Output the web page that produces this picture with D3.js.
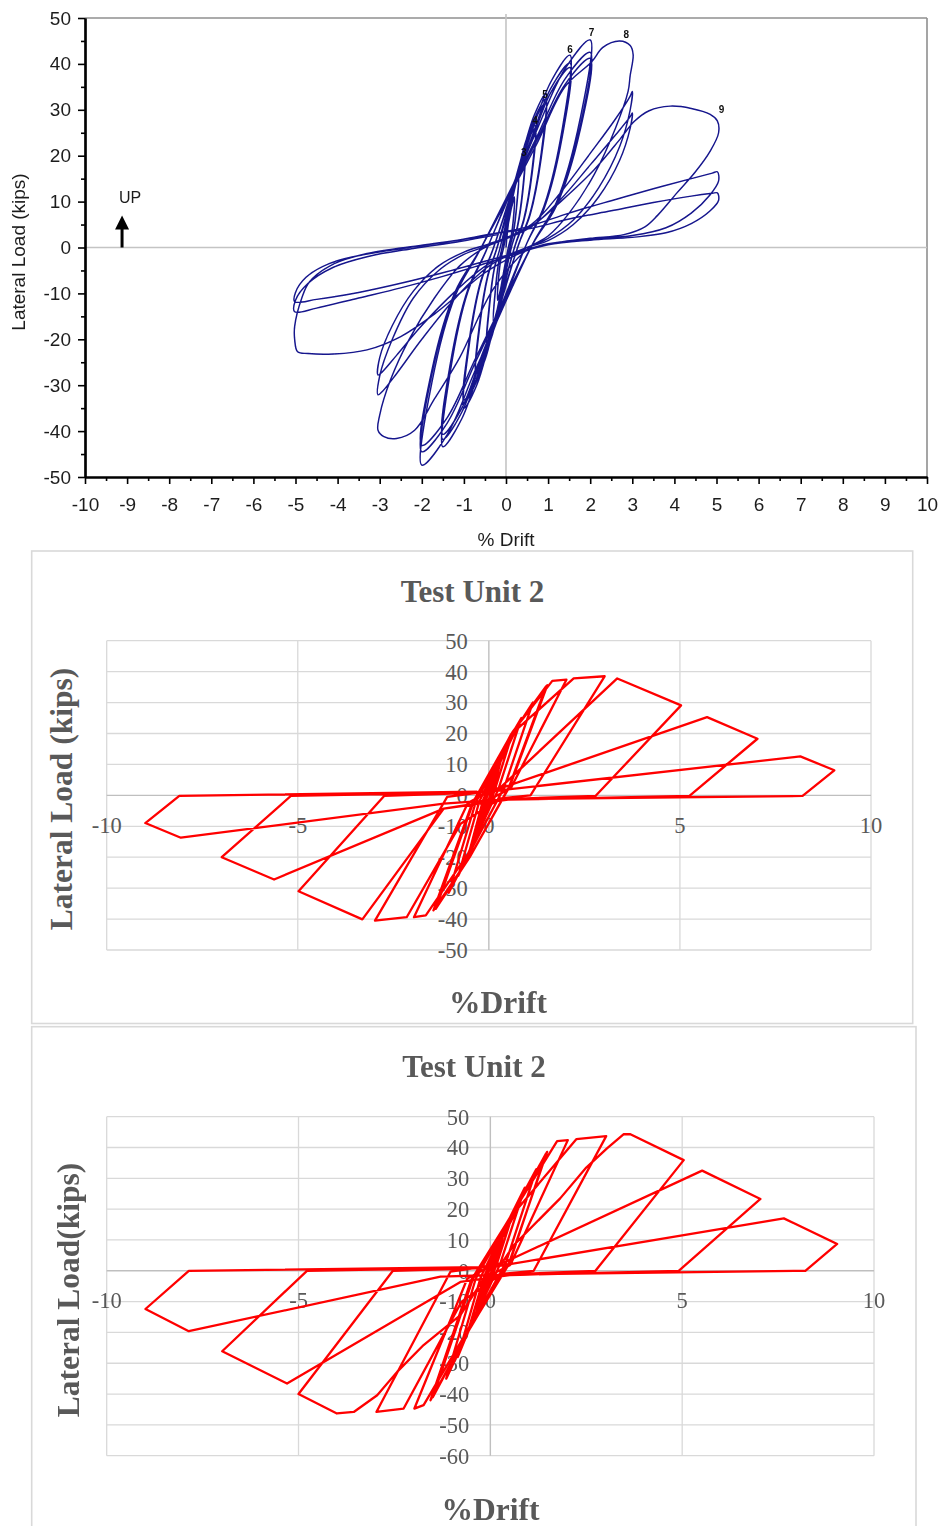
<!DOCTYPE html>
<html>
<head>
<meta charset="utf-8">
<script src="https://cdn.jsdelivr.net/npm/d3@7"></script>
<style>
  body { margin: 0; background: #fff; }
  svg { display: block; }
</style>
</head>
<body>
<svg id="fig" width="941" height="1526"></svg>
<script>
// ===================== data =====================
// Upper plot: measured hysteresis (drift %, lateral load kips)
const topDriftTicks = [-10,-9,-8,-7,-6,-5,-4,-3,-2,-1,0,1,2,3,4,5,6,7,8,9,10];
const topLoadTicks = [50,40,30,20,10,0,-10,-20,-30,-40,-50];

const blueCycle1 = [
  [0,0],[0.07,6.1],[0.14,9.5],[0.2,11],[0.18,6.8],[0.12,2.4],[0.06,0.2],[-0.07,-6.3],[-0.14,-9.9],[-0.2,-11.5],[-0.18,-7.1],[-0.12,-2.5],[-0.06,-0.2],
  [0.07,5.8],[0.14,9],[0.2,10.5],[0.18,6.5],[0.12,2.3],[0.06,0.2],[-0.07,-6],[-0.14,-9.5],[-0.2,-11],[-0.18,-6.8],[-0.12,-2.4],[-0.06,-0.2]
];
const blueCycle2 = [
  [0.11,8.8],[0.21,13.8],[0.3,16],[0.26,9.9],[0.18,3.5],[0.1,0.3],[-0.11,-9.1],[-0.21,-14.2],[-0.3,-16.5],[-0.26,-10.2],[-0.18,-3.6],[-0.1,-0.3],
  [0.11,8.5],[0.21,13.3],[0.3,15.4],[0.26,9.5],[0.18,3.4],[0.1,0.3],[-0.11,-8.8],[-0.21,-13.7],[-0.3,-15.9],[-0.26,-9.9],[-0.18,-3.5],[-0.1,-0.3]
];
const blueCycle3 = [
  [0.16,11.6],[0.32,18.1],[0.45,21],[0.4,13],[0.27,4.6],[0.14,0.4],[-0.16,-12.1],[-0.32,-18.9],[-0.46,-22],[-0.4,-13.6],[-0.28,-4.8],[-0.15,-0.4],
  [0.16,11.2],[0.32,17.4],[0.45,20.2],[0.4,12.5],[0.27,4.4],[0.14,0.4],[-0.16,-11.7],[-0.32,-18.3],[-0.46,-21.2],[-0.4,-13.1],[-0.28,-4.7],[-0.15,-0.4],
  [0.16,10.9],[0.32,17],[0.45,19.8],[0.4,12.2],[0.27,4.3],[0.14,0.4],[-0.16,-11.4],[-0.32,-17.9],[-0.46,-20.8],[-0.4,-12.8],[-0.28,-4.6],[-0.15,-0.4]
];
const blueCycle4 = [
  [0.25,15.1],[0.49,23.7],[0.7,27.5],[0.62,17.1],[0.42,6.1],[0.22,0.6],[-0.25,-15.7],[-0.5,-24.5],[-0.72,-28.5],[-0.63,-17.7],[-0.43,-6.3],[-0.23,-0.6],
  [0.25,14.6],[0.49,22.9],[0.7,26.6],[0.62,16.5],[0.42,5.9],[0.22,0.6],[-0.25,-15.2],[-0.5,-23.7],[-0.72,-27.6],[-0.63,-17.1],[-0.43,-6.1],[-0.23,-0.6],
  [0.25,14.3],[0.49,22.4],[0.7,26],[0.62,16.1],[0.42,5.7],[0.22,0.5],[-0.25,-14.9],[-0.5,-23.2],[-0.72,-27],[-0.63,-16.7],[-0.43,-5.9],[-0.23,-0.5]
];
const blueCycle5 = [
  [0.33,18.4],[0.67,28.8],[0.95,33.5],[0.84,20.8],[0.57,7.4],[0.3,0.7],[-0.35,-19.3],[-0.7,-30.1],[-1.0,-35],[-0.88,-21.7],[-0.6,-7.7],[-0.32,-0.7],
  [0.33,17.8],[0.67,27.9],[0.95,32.4],[0.84,20.1],[0.57,7.1],[0.3,0.6],[-0.35,-18.7],[-0.7,-29.2],[-1.0,-33.9],[-0.88,-21],[-0.6,-7.5],[-0.32,-0.7],
  [0.33,17.4],[0.67,27.3],[0.95,31.7],[0.84,19.7],[0.57,7],[0.3,0.6],[-0.35,-18.3],[-0.7,-28.6],[-1.0,-33.2],[-0.88,-20.6],[-0.6,-7.3],[-0.32,-0.6]
];
const blueCycle6 = [
  [0.53,23],[1.06,36],[1.52,41.9],[1.34,26],[0.91,9.2],[0.49,0.8],[-0.53,-23.9],[-1.05,-37.3],[-1.5,-43.4],[-1.32,-26.9],[-0.9,-9.5],[-0.48,-0.9],
  [0.53,22],[1.06,34.6],[1.52,40.2],[1.34,24.9],[0.91,8.8],[0.49,0.8],[-0.53,-23],[-1.05,-35.9],[-1.5,-41.8],[-1.32,-25.9],[-0.9,-9.2],[-0.48,-0.8],
  [0.53,21.4],[1.06,33.7],[1.52,39.2],[1.34,24.3],[0.91,8.6],[0.49,0.8],[-0.53,-22.4],[-1.05,-35],[-1.5,-40.7],[-1.32,-25.2],[-0.9,-9],[-0.48,-0.8]
];
const blueCycle7 = [
  [0.7,24.9],[1.4,38.9],[2.0,45.2],[1.76,28],[1.2,9.9],[0.64,0.9],[-0.7,-26.1],[-1.4,-40.8],[-2.0,-47.4],[-1.76,-29.4],[-1.2,-10.4],[-0.64,-0.9],
  [0.7,23.5],[1.4,36.7],[2.0,42.5],[1.76,26.4],[1.2,9.4],[0.64,0.9],[-0.7,-24.5],[-1.4,-38.3],[-2.0,-44.5],[-1.76,-27.6],[-1.2,-9.8],[-0.64,-0.9],
  [0.7,22.8],[1.4,35.5],[2.0,41.2],[1.76,25.5],[1.2,9.1],[0.64,0.8],[-0.7,-23.7],[-1.4,-37.1],[-2.0,-43.1],[-1.76,-26.7],[-1.2,-9.5],[-0.64,-0.8]
];
const blueCycle8 = [
  [0.7,22],[1.4,35],[2.04,40.5],[2.3,43.6],[2.7,45],[2.95,44],[3.02,42],[2.95,37.5],[2.9,34],[2.6,26],[2.1,16],[1.5,7.5],[1.0,2.5],[0.55,0],
  [-0.3,-9],[-1.1,-24],[-1.7,-33],[-2.17,-39.8],[-2.6,-41.6],[-2.9,-41.2],[-3.04,-39.8],[-3.0,-36.5],[-2.75,-29],[-2.3,-20],[-1.7,-11],[-1.1,-4],[-0.6,-0.5],
  [0.6,5],[1.3,12],[2.0,20.5],[2.6,28],[2.95,33],[3.0,34],[2.95,30],[2.7,22],[2.2,13],[1.6,6],[1.0,2],[0.5,0],
  [-0.4,-4],[-1.2,-11],[-2.0,-20],[-2.6,-27.5],[-2.95,-31.5],[-3.04,-32.1],[-3.0,-28],[-2.7,-20],[-2.2,-11],[-1.6,-5],[-1.0,-1.5],[-0.4,0.5],
  [0.6,4.5],[1.3,10.5],[2.0,18],[2.6,24.5],[2.95,28.5],[3.0,29.3],[2.95,26],[2.7,19],[2.2,11],[1.6,5],[1.0,1.5],[0.5,0],
  [-0.4,-3.5],[-1.2,-9.5],[-2.0,-17],[-2.6,-23.5],[-2.95,-27.2],[-3.04,-27.8],[-3.0,-24],[-2.7,-17],[-2.2,-9.5],[-1.6,-4],[-1.0,-1],[-0.4,0.8]
];
const blueCycle9 = [
  [0.5,4],[1.3,10],[2.1,17],[2.7,23.5],[3.05,27.5],[3.4,29.8],[3.9,30.8],[4.4,30.3],[4.85,29],[5.02,27.6],[5.05,25],[4.85,21],[4.5,16.5],[4.06,11.9],[3.6,7],[3.3,4.5],[2.8,2.8],[2.0,2],[1.2,1],[0.4,-1],
  [-0.5,-5.5],[-1.1,-10],[-1.7,-14.5],[-2.5,-19.4],[-3.3,-22.3],[-4.1,-23.2],[-4.7,-23.1],[-4.95,-22.7],[-5.02,-20],[-5.02,-17.2],[-4.85,-11],[-4.67,-7.5],[-4.1,-3.6],[-3.3,-1.3],[-2.0,0.5],[-1.0,1.8],[-0.3,3],
  [0.5,4.5],[1.5,7.5],[2.5,10.2],[3.5,12.8],[4.4,15],[4.9,16.2],[5.02,16.5],[5.05,14.5],[4.85,11.5],[4.4,7.5],[3.8,4.3],[3.0,2.6],[2.0,1.8],[1.0,0.8],[0.3,-1],
  [-0.5,-3],[-1.5,-5.5],[-2.5,-7.8],[-3.5,-9.8],[-4.5,-11.3],[-5.02,-11.8],[-5.0,-9.8],[-4.75,-6.5],[-4.2,-3.5],[-3.4,-1.6],[-2.3,0],[-1.2,1.5],[-0.3,3],
  [0.5,4],[1.5,6.2],[2.5,8],[3.5,9.8],[4.4,11.2],[4.9,11.8],[5.02,11.9],[5.05,10.3],[4.85,8],[4.4,5.2],[3.8,3.2],[3.0,2.2],[2.0,1.6],[1.0,0.6],[0.3,-1.2],
  [-0.5,-3.5],[-1.5,-6.3],[-2.5,-8.8],[-3.5,-11],[-4.5,-13.2],[-5.02,-14],[-5.0,-11.5],[-4.7,-7.8],[-4.1,-4.3],[-3.3,-2],[-2.2,-0.2],[-1.1,1.3],[-0.2,2.8]
];
// cycle numbers written beside the peaks
const cycleLabels = ["3","4","5","6","7","8","9"];
const cycleLabelDrift = [0.42,0.69,0.93,1.52,2.03,2.86,5.12];
const cycleLabelLoad = [20.7,27.6,33.4,43.2,46.9,46.4,30.0];

// Lower plots: Test Unit 2 model traces
const redDriftTicks = [-10,-5,0,5,10];
const unitALoadTicks = [50,40,30,20,10,0,-10,-20,-30,-40,-50];
const unitBLoadTicks = [50,40,30,20,10,0,-10,-20,-30,-40,-50,-60];

const unitAElastic = [
  [0,0],[0.2,7.5],[0.05,0.5],[-0.2,-8],[-0.05,-0.5],
  [0.22,8],[0.06,0.6],[-0.22,-8.5],[-0.06,-0.6],
  [0.35,13],[0.1,1],[-0.35,-13.5],[-0.1,-1],
  [0.36,13.5],[0.1,1],[-0.36,-14],[-0.1,-1],
  [0.5,17.5],[0.6,19.5],[0.15,1.5],[-0.45,-17.5],[-0.55,-20],[-0.15,-1.5],
  [0.52,18],[0.85,25],[0.25,2],[-0.5,-18],[-0.8,-26],[-0.25,-2],
  [0.55,18.5],[1.15,30],[0.4,2.5],[-0.5,-18.5],[-1.05,-31.5],[-0.35,-2.5],
  [0.57,19.5],[1.53,35.6],[0.55,3],[-0.48,-19.5],[-1.45,-37.2],[-0.45,-3],
  [0.6,20],[1.5,35.3],[0.52,2.5],[-0.5,-20],[-1.39,-36.7],[-0.4,-2]
];
const unitACycle2 = [[0.62,20.5],[1.66,37],[2.03,37.4],[0.57,2.2],[0.1,-0.8],[-0.55,-19],[-1.65,-38.8],[-1.96,-39.4],[-0.55,-2.5],[-0.1,0.6]];
const unitACycle3 = [[0.7,21],[2.22,37.8],[3.03,38.5],[1.09,0],[0.3,-1],[-0.74,-9.2],[-2.15,-39.4],[-2.98,-40.5],[-1.09,-0.5],[-0.3,0.8]];
const unitACycle5 = [[0.3,2.5],[3.36,37.8],[5.03,29.1],[2.79,-0.2],[0.4,-1.2],[-1.18,-4.3],[-3.31,-40.1],[-4.98,-31.0],[-2.74,-0.2],[-0.4,0.8]];
const unitACycle7 = [[0.2,1.8],[5.71,25.3],[7.03,18.3],[5.25,-0.2],[0.5,-1.4],[-1.18,-4.3],[-5.62,-27.2],[-6.99,-20.0],[-5.18,-0.2],[-0.3,1]];
const unitACycle9 = [[0.2,1.5],[8.15,12.6],[9.04,8.1],[8.21,-0.2],[0.5,-1.2],[-1.18,-2.7],[-8.06,-13.7],[-8.99,-8.95],[-8.1,-0.2],[-0.3,1.2]];

const unitBElastic = [
  [0,0],[0.2,7],[0.05,0.5],[-0.2,-7.5],[-0.05,-0.5],
  [0.22,7.5],[0.06,0.6],[-0.22,-8],[-0.06,-0.6],
  [0.35,12],[0.1,1],[-0.35,-12.5],[-0.1,-1],
  [0.36,12.5],[0.1,1],[-0.36,-13],[-0.1,-1],
  [0.5,17],[0.6,19],[0.15,1.5],[-0.48,-17.5],[-0.58,-19.5],[-0.15,-1.5],
  [0.52,17.5],[0.9,27],[0.25,2],[-0.52,-18],[-0.85,-28],[-0.25,-2],
  [0.55,18],[1.2,33],[0.4,2.5],[-0.52,-18.2],[-1.15,-35],[-0.38,-2.5],
  [0.57,18.5],[1.48,38.6],[0.5,3],[-0.52,-18.5],[-1.56,-42],[-0.5,-3],
  [0.6,19],[1.45,38],[0.5,2.5],[-0.55,-19],[-1.5,-41],[-0.45,-2.5]
];
const unitBCycle2 = [[0.62,19.5],[1.74,42.1],[2.02,42.4],[0.52,1.9],[0.1,-0.8],[-0.6,-19.5],[-1.74,-43.6],[-1.98,-44.7],[-0.6,-2.5],[-0.1,0.8]];
const unitBCycle3 = [[0.7,20],[2.24,42.7],[3.02,43.7],[1.13,0],[0.3,-1],[-0.75,-10],[-2.26,-44.7],[-2.97,-45.8],[-1.04,-0.3],[-0.3,1]];
const unitBCycle5 = [[0.3,2.5],[0.61,8.3],[1.82,23.5],[2.5,33.5],[3.04,39.7],[3.47,44.3],[3.65,44.3],[5.04,35.9],[2.74,0],[0.4,-1.2],
  [-0.2,-3],[-0.78,-14.4],[-1.74,-24.1],[-2.43,-32.8],[-2.95,-40.4],[-3.56,-45.8],[-4.0,-46.3],[-5.0,-40.0],[-2.54,0],[-0.4,0.8]];
const unitBCycle7 = [[0.2,1.8],[5.52,32.5],[7.04,23.3],[4.91,0],[0.5,-1.4],[-0.78,-3.6],[-5.3,-36.6],[-6.99,-26.1],[-4.78,0],[-0.3,1]];
const unitBCycle9 = [[0.2,1.5],[7.65,17.0],[9.04,8.7],[8.21,0],[0.5,-1.2],[-1.3,-1.9],[-7.86,-19.6],[-8.99,-12.4],[-7.86,0],[-0.3,1.2]];

// ===================== drawing =====================
const svg = d3.select("#fig");
const sans = "'Liberation Sans', Arial, sans-serif";
const serif = "'Liberation Serif', 'Times New Roman', serif";

// slight softening for the scanned upper plot
svg.append("defs").append("filter").attr("id", "soft")
  .attr("x", "-2%").attr("y", "-2%").attr("width", "104%").attr("height", "104%")
  .append("feGaussianBlur").attr("stdDeviation", 0.45);

// ---------- upper plot ----------
const xTop = d3.scaleLinear().domain([-10, 10]).range([85, 927]);
const yTop = d3.scaleLinear().domain([-50, 50]).range([477, 18]);
const gTop = svg.append("g").attr("filter", "url(#soft)");

// frame (top and right edges) and zero reference lines
gTop.append("line").attr("x1", xTop(-10)).attr("x2", xTop(10)).attr("y1", yTop(50)).attr("y2", yTop(50))
  .attr("stroke", "#8f8f8f").attr("stroke-width", 1.6);
gTop.append("line").attr("x1", xTop(10)).attr("x2", xTop(10)).attr("y1", yTop(50)).attr("y2", yTop(-50))
  .attr("stroke", "#8f8f8f").attr("stroke-width", 1.6);
gTop.append("line").attr("x1", xTop(-10)).attr("x2", xTop(10)).attr("y1", yTop(0)).attr("y2", yTop(0))
  .attr("stroke", "#c4c4c4").attr("stroke-width", 1.6);
gTop.append("line").attr("x1", xTop(0)).attr("x2", xTop(0)).attr("y1", yTop(50) - 4).attr("y2", yTop(-50))
  .attr("stroke", "#c4c4c4").attr("stroke-width", 1.6);

// hysteresis trace
const blueTrace = [].concat(blueCycle1, blueCycle2, blueCycle3, blueCycle4, blueCycle5,
                            blueCycle6, blueCycle7, blueCycle8, blueCycle9);
const blueLine = d3.line()
  .x(d => xTop(d[0])).y(d => yTop(d[1]))
  .curve(d3.curveCatmullRom.alpha(0.5));
gTop.append("path").datum(blueTrace).attr("d", blueLine)
  .attr("fill", "none").attr("stroke", "#14148c").attr("stroke-width", 1.45)
  .attr("stroke-linejoin", "round");

// axes
const yMinor = gTop.append("g").attr("transform", `translate(${xTop(-10)},0)`)
  .call(d3.axisLeft(yTop).tickValues([45,35,25,15,5,-5,-15,-25,-35,-45]).tickSize(4).tickSizeOuter(0).tickFormat(""));
const yMajor = gTop.append("g").attr("transform", `translate(${xTop(-10)},0)`)
  .call(d3.axisLeft(yTop).tickValues(topLoadTicks).tickSize(7).tickSizeOuter(0).tickPadding(7).tickFormat(d => String(d)));
const xMinor = gTop.append("g").attr("transform", `translate(0,${yTop(-50)})`)
  .call(d3.axisBottom(xTop).tickValues(topDriftTicks.slice(0, -1).map(d => d + 0.5)).tickSize(4).tickSizeOuter(0).tickFormat(""));
const xMajor = gTop.append("g").attr("transform", `translate(0,${yTop(-50)})`)
  .call(d3.axisBottom(xTop).tickValues(topDriftTicks).tickSize(7).tickSizeOuter(0).tickPadding(14).tickFormat(d => String(d)));
[yMinor, yMajor, xMinor, xMajor].forEach(g => {
  g.select(".domain").attr("stroke", "#000").attr("stroke-width", 2.2);
  g.selectAll(".tick line").attr("stroke", "#000").attr("stroke-width", 1.6);
  g.selectAll("text").attr("font-family", sans).attr("font-size", 19).attr("fill", "#1e1e1e");
});

// axis titles
gTop.append("text").attr("transform", `translate(25,252) rotate(-90)`)
  .attr("text-anchor", "middle").attr("font-family", sans).attr("font-size", 19).attr("fill", "#1e1e1e")
  .text("Lateral Load (kips)");
gTop.append("text").attr("x", xTop(0)).attr("y", 546)
  .attr("text-anchor", "middle").attr("font-family", sans).attr("font-size", 19).attr("fill", "#1e1e1e")
  .text("% Drift");

// direction marker
const upX = xTop(-9.12);
gTop.append("line").attr("x1", upX).attr("x2", upX).attr("y1", yTop(0)).attr("y2", yTop(0) - 20)
  .attr("stroke", "#000").attr("stroke-width", 3);
gTop.append("path").attr("d", `M${upX - 7},${yTop(0) - 18} L${upX + 7},${yTop(0) - 18} L${upX},${yTop(0) - 32} Z`)
  .attr("fill", "#000");
gTop.append("text").attr("x", upX + 8).attr("y", yTop(0) - 45)
  .attr("text-anchor", "middle").attr("font-family", sans).attr("font-size", 16).attr("fill", "#1e1e1e")
  .text("UP");

// cycle numbers
gTop.append("g").selectAll("text").data(cycleLabels).join("text")
  .attr("x", (d, i) => xTop(cycleLabelDrift[i]))
  .attr("y", (d, i) => yTop(cycleLabelLoad[i]))
  .attr("dy", "0.35em").attr("text-anchor", "middle")
  .attr("font-family", sans).attr("font-size", 10).attr("font-weight", "bold").attr("fill", "#111")
  .text(d => d);

// ---------- lower plots ----------
function drawUnit(o) {
  const g = svg.append("g");
  g.append("rect").attr("x", o.box[0]).attr("y", o.box[1]).attr("width", o.box[2]).attr("height", o.box[3])
    .attr("fill", "#fff").attr("stroke", "#d9d9d9").attr("stroke-width", 1.6);

  const x = d3.scaleLinear().domain([-10, 10]).range(o.xRange);
  const y = d3.scaleLinear().domain(d3.extent(o.loadTicks)).range(o.yRange);

  // gridlines
  g.append("g").selectAll("line").data(o.loadTicks.filter(d => d !== 0)).join("line")
    .attr("x1", x(-10)).attr("x2", x(10)).attr("y1", d => y(d)).attr("y2", d => y(d))
    .attr("stroke", "#d9d9d9").attr("stroke-width", 1.3);
  g.append("g").selectAll("line").data(redDriftTicks.filter(d => d !== 0)).join("line")
    .attr("x1", d => x(d)).attr("x2", d => x(d)).attr("y1", y.range()[0]).attr("y2", y.range()[1])
    .attr("stroke", "#d9d9d9").attr("stroke-width", 1.3);
  // zero axes
  g.append("line").attr("x1", x(-10)).attr("x2", x(10)).attr("y1", y(0)).attr("y2", y(0))
    .attr("stroke", "#bfbfbf").attr("stroke-width", 1.4);
  g.append("line").attr("x1", x(0)).attr("x2", x(0)).attr("y1", y.range()[0]).attr("y2", y.range()[1])
    .attr("stroke", "#bfbfbf").attr("stroke-width", 1.4);

  // tick labels
  g.append("g").selectAll("text").data(o.loadTicks).join("text")
    .attr("x", x(0) - 21).attr("y", d => y(d)).attr("dy", "0.35em")
    .attr("text-anchor", "end").attr("font-family", serif).attr("font-size", 22.5).attr("fill", "#595959")
    .text(d => String(d));
  g.append("g").selectAll("text").data(redDriftTicks).join("text")
    .attr("x", d => x(d)).attr("y", y(0) + o.xLabelDrop)
    .attr("text-anchor", "middle").attr("font-family", serif).attr("font-size", 22.5).attr("fill", "#595959")
    .text(d => String(d));

  // trace
  g.append("path").datum(o.trace)
    .attr("d", d3.line().x(d => x(d[0])).y(d => y(d[1])))
    .attr("fill", "none").attr("stroke", "#ff0000").attr("stroke-width", 2.3)
    .attr("stroke-linejoin", "round");

  // titles
  g.append("text").attr("x", o.title[0]).attr("y", o.title[1])
    .attr("text-anchor", "middle").attr("font-family", serif).attr("font-weight", "bold")
    .attr("font-size", 31).attr("fill", "#595959").text("Test Unit 2");
  g.append("text").attr("transform", `translate(${o.yTitle[0]},${o.yTitle[1]}) rotate(-90)`)
    .attr("text-anchor", "middle").attr("font-family", serif).attr("font-weight", "bold")
    .attr("font-size", 31.5).attr("fill", "#595959").text(o.yTitleText);
  g.append("text").attr("x", o.xTitle[0]).attr("y", o.xTitle[1])
    .attr("text-anchor", "middle").attr("font-family", serif).attr("font-weight", "bold")
    .attr("font-size", 31.5).attr("fill", "#595959").text("%Drift");
}

drawUnit({
  box: [31.7, 551, 881, 472.5],
  xRange: [106.7, 871],
  yRange: [950, 640.7],
  loadTicks: unitALoadTicks,
  xLabelDrop: 38,
  trace: [].concat(unitAElastic, unitACycle2, unitACycle3, unitACycle5, unitACycle7, unitACycle9),
  title: [472.5, 601.5],
  yTitle: [72, 799],
  yTitleText: "Lateral Load (kips)",
  xTitle: [498, 1013]
});

drawUnit({
  box: [31.7, 1026.7, 884.3, 520],
  xRange: [106.7, 874],
  yRange: [1455.7, 1116.7],
  loadTicks: unitBLoadTicks,
  xLabelDrop: 37.5,
  trace: [].concat(unitBElastic, unitBCycle2, unitBCycle3, unitBCycle5, unitBCycle7, unitBCycle9),
  title: [474, 1077],
  yTitle: [79.3, 1290],
  yTitleText: "Lateral Load(kips)",
  xTitle: [490.5, 1520]
});
</script>
</body>
</html>
